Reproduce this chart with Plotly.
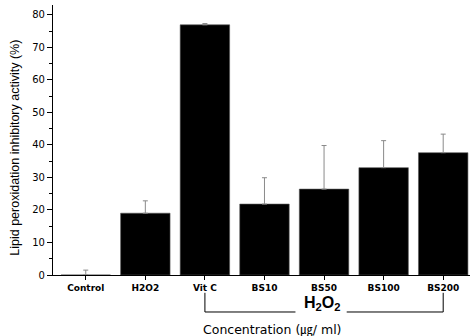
import plotly.graph_objects as go

categories = ["Control", "H2O2", "Vit C", "BS10", "BS50", "BS100", "BS200"]
values = [0.0, 19.0, 76.9, 21.8, 26.4, 33.0, 37.6]
errors = [1.5, 3.8, 0.4, 8.1, 13.4, 8.3, 5.7]
y_ticks = [0, 10, 20, 30, 40, 50, 60, 70, 80]

FONT = "Liberation Sans, Arial, sans-serif"
WIDE = "DejaVu Sans, Liberation Sans, sans-serif"

fig = go.Figure()
fig.add_trace(go.Bar(
    x=list(range(len(categories))),
    y=values,
    marker=dict(color="black", line=dict(color="#555555", width=0.6)),
    width=0.83,
    error_y=dict(type="data", array=errors, symmetric=False, arrayminus=[0]*len(errors),
                 color="#8a8a8a", thickness=1, width=2.5),
))

# bracket under Vit C ... BS200 labelled H2O2
yb_top, yb_bot = -0.066, -0.137
fig.add_shape(type="line", xref="x", yref="paper", x0=2, x1=2, y0=yb_top, y1=yb_bot,
              line=dict(color="black", width=1))
fig.add_shape(type="line", xref="x", yref="paper", x0=6, x1=6, y0=yb_top, y1=yb_bot,
              line=dict(color="black", width=1))
fig.add_shape(type="line", xref="x", yref="paper", x0=2, x1=3.52, y0=yb_bot, y1=yb_bot,
              line=dict(color="black", width=1))
fig.add_shape(type="line", xref="x", yref="paper", x0=4.38, x1=6, y0=yb_bot, y1=yb_bot,
              line=dict(color="black", width=1))

fig.add_annotation(x=3.96, xref="x", y=-0.104, yref="paper",
                   text="<b>H<sub>2</sub>O<sub>2</sub></b>", showarrow=False,
                   font=dict(family=FONT, size=16, color="black"),
                   xanchor="center", yanchor="middle")
fig.add_annotation(x=3.13, xref="x", y=-0.165, yref="paper",
                   text="Concentration (㎍/ ml)", showarrow=False,
                   font=dict(family=WIDE + ", Noto Sans CJK KR", size=12.5, color="black"),
                   xanchor="center", yanchor="top")
fig.add_annotation(x=-0.092, xref="paper", y=0.47, yref="paper",
                   text="Lipid peroxidation inhibitory activity (%)", showarrow=False,
                   textangle=-90,
                   font=dict(family=FONT, size=12.5, color="black"),
                   xanchor="center", yanchor="middle")

fig.update_layout(
    width=472, height=336,
    margin=dict(l=53, r=2, t=5, b=61),
    paper_bgcolor="white", plot_bgcolor="white",
    showlegend=False,
    xaxis=dict(
        range=[-0.55, 6.45],
        tickmode="array", tickvals=list(range(len(categories))), ticktext=categories,
        ticks="outside", ticklen=4, tickcolor="black",
        showline=True, linecolor="black", linewidth=1.2,
        showgrid=False, zeroline=False,
        tickfont=dict(family=WIDE, size=9, color="black", weight="bold"),
    ),
    yaxis=dict(
        range=[0, 83],
        tickmode="array", tickvals=y_ticks,
        ticks="outside", ticklen=5, tickcolor="black",
        minor=dict(ticks="outside", ticklen=3, dtick=5, tickcolor="black"),
        showline=True, linecolor="black", linewidth=1.2,
        showgrid=False, zeroline=False,
        tickfont=dict(family=WIDE, size=10, color="black"),
    ),
)

fig.write_html("out.html", config={"displayModeBar": False},
               post_script="document.body.style.margin='0';document.body.style.padding='0';")
